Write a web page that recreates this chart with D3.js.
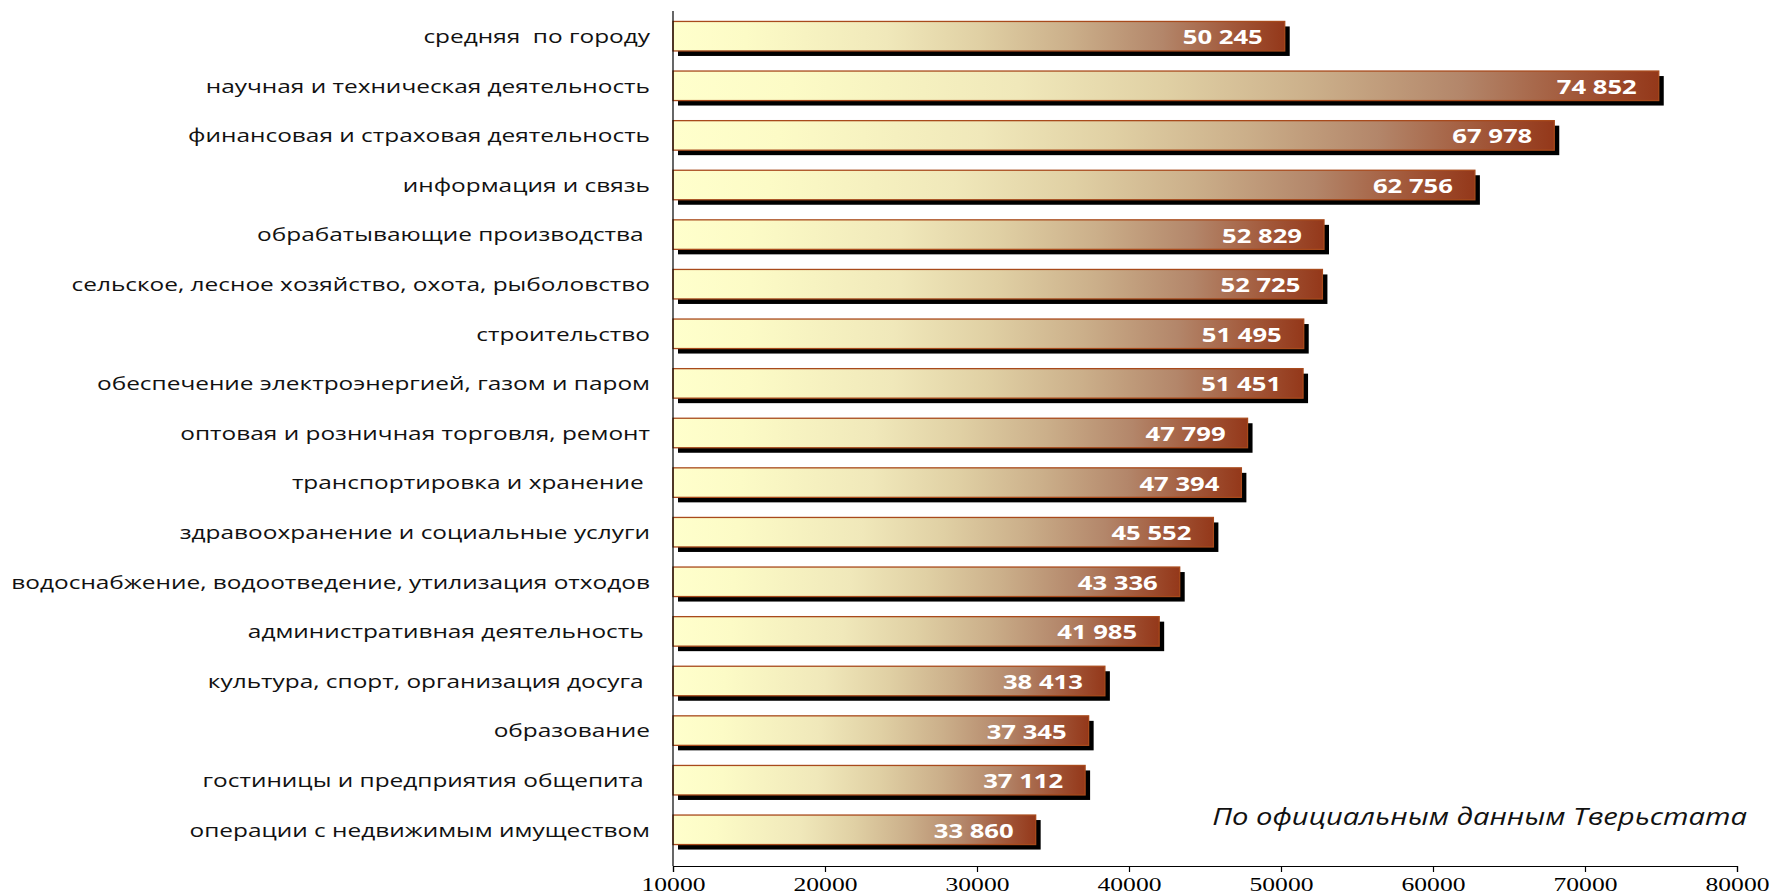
<!DOCTYPE html>
<html>
<head>
<meta charset="utf-8">
<script src="https://cdn.jsdelivr.net/npm/d3@7"></script>
<style>
  html, body { margin: 0; padding: 0; background: #fff; }
  svg { display: block; }
  text { white-space: pre; }
</style>
</head>
<body>
<svg id="chart" width="1773" height="895"></svg>
<script>
// ---- data ----
const categories = [
  "средняя  по городу",
  "научная и техническая деятельность",
  "финансовая и страховая деятельность",
  "информация и связь",
  "обрабатывающие производства ",
  "сельское, лесное хозяйство, охота, рыболовство",
  "строительство",
  "обеспечение электроэнергией, газом и паром",
  "оптовая и розничная торговля, ремонт",
  "транспортировка и хранение ",
  "здравоохранение и социальные услуги",
  "водоснабжение, водоотведение, утилизация отходов",
  "административная деятельность ",
  "культура, спорт, организация досуга ",
  "образование",
  "гостиницы и предприятия общепита ",
  "операции с недвижимым имуществом"
];
const values = [50245, 74852, 67978, 62756, 52829, 52725, 51495, 51451, 47799, 47394, 45552, 43336, 41985, 38413, 37345, 37112, 33860];
const xTicks = [10000, 20000, 30000, 40000, 50000, 60000, 70000, 80000];
const xDomain = [10000, 80000];
const note = "По официальным данным Тверьстата";

// ---- layout ----
const svg = d3.select("#chart");
const axisX0 = 673, axisX1 = 1737, axisY = 866, plotTop = 11;

const x = d3.scaleLinear().domain(xDomain).range([axisX0, axisX1]);
const y = d3.scaleBand().domain(categories).range([11.4, 854.6])
  .paddingInner(0.405).paddingOuter(0.2025);

const fmt = v => d3.format(",")(v).replace(/,/g, " ");
const data = categories.map((c, i) => ({ c, v: values[i] }));

// gradient
const defs = svg.append("defs");
const grad = defs.append("linearGradient").attr("id", "barGrad")
  .attr("x1", 0).attr("x2", 1).attr("y1", 0).attr("y2", 0);
[[0, "#FFFFCC"], [0.12, "#FCFBC6"], [0.35, "#F0E8BA"], [0.5, "#E0D0A4"],
 [0.65, "#CBAF8A"], [0.8, "#B3866A"], [0.92, "#A15638"], [1, "#94381A"]]
  .forEach(([o, c]) => grad.append("stop").attr("offset", o).attr("stop-color", c));

// shadows
svg.append("g").selectAll("rect").data(data).join("rect")
  .attr("x", x(xDomain[0]) + 5)
  .attr("y", d => y(d.c) + 5)
  .attr("width", d => x(d.v) - x(xDomain[0]))
  .attr("height", y.bandwidth())
  .attr("fill", "#000");

// bars
svg.append("g").selectAll("rect").data(data).join("rect")
  .attr("x", x(xDomain[0]))
  .attr("y", d => y(d.c))
  .attr("width", d => x(d.v) - x(xDomain[0]))
  .attr("height", y.bandwidth())
  .attr("fill", "url(#barGrad)")
  .attr("stroke", "#A84A1C")
  .attr("stroke-width", 1.3);

// helper: horizontal stretch factor so a reference text reaches a target width
function stretch(refNode, target) {
  return target / refNode.getComputedTextLength();
}

// category labels
const labs = svg.append("g").selectAll("text").data(data).join("text")
  .attr("text-anchor", "end")
  .attr("font-family", "'Open Sans', sans-serif")
  .attr("font-size", 19)
  .attr("fill", "#111")
  .attr("dy", "0.36em")
  .text(d => d.c);
const sxLab = stretch(labs.nodes()[11], 639);
labs.attr("transform", d => `translate(650,${y(d.c) + y.bandwidth() / 2}) scale(${sxLab},1)`);

// value labels
const vals = svg.append("g").selectAll("text").data(data).join("text")
  .attr("text-anchor", "end")
  .attr("font-family", "'Open Sans', sans-serif")
  .attr("font-weight", "bold")
  .attr("font-size", 19.5)
  .attr("fill", "#fff")
  .attr("dy", "0.36em")
  .text(d => fmt(d.v));
const sxVal = stretch(vals.nodes()[0], 80);
vals.attr("transform", d => `translate(${x(d.v) - 22},${y(d.c) + y.bandwidth() / 2 + 1}) scale(${sxVal},1)`);

// y axis line
svg.append("line")
  .attr("x1", axisX0).attr("x2", axisX0)
  .attr("y1", plotTop).attr("y2", axisY)
  .attr("stroke", "#000").attr("stroke-width", 1.2);

// x axis
const xAxis = svg.append("g")
  .attr("transform", `translate(0,${axisY})`)
  .call(d3.axisBottom(x).tickValues(xTicks).tickFormat(d3.format("d"))
    .tickSize(6).tickSizeOuter(6).tickPadding(6));
xAxis.select(".domain").attr("stroke", "#000").attr("stroke-width", 1.2);
xAxis.selectAll(".tick line").attr("stroke", "#000").attr("stroke-width", 1.2);
const tickTexts = xAxis.selectAll(".tick text")
  .attr("font-family", "'Liberation Serif', 'Times New Roman', serif")
  .attr("font-size", 19)
  .attr("fill", "#000");
const sxTick = stretch(tickTexts.nodes()[0], 64);
tickTexts.attr("transform", `scale(${sxTick},1)`);

// note
const nt = svg.append("text")
  .attr("text-anchor", "end")
  .attr("font-family", "'Open Sans', sans-serif")
  .attr("font-style", "italic")
  .attr("font-size", 24)
  .attr("fill", "#111")
  .attr("dy", "0.36em")
  .text(note);
const sxNote = stretch(nt.node(), 535);
nt.attr("transform", `translate(1747,816) scale(${sxNote},1)`);
</script>
</body>
</html>
